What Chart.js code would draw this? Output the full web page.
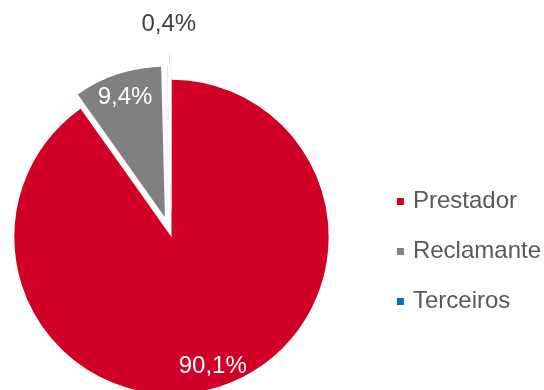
<!DOCTYPE html>
<html><head><meta charset="utf-8">
<script src="https://cdn.jsdelivr.net/npm/chart.js@4"></script>
<style>
html,body{margin:0;padding:0;background:#fff;overflow:hidden;width:544px;height:390px;position:relative}
#c{position:absolute;left:-31px;top:0}
</style>
</head><body>
<canvas id="c" width="582" height="400"></canvas>
<script>
const categories = ['Prestador', 'Reclamante', 'Terceiros'];
const shares = [90.1, 9.4, 0.4];
const sliceColors = ['#D00027', '#808080', '#0070C0'];
const explodeDistance = [0, 20.7, 26];
const radiusScale = [1, 0.959, 1];
const labelDistance = [0.864, 0.838, 1.183];
const labelColors = ['#FFFFFF', '#FFFFFF', '#404040'];
const FONT = '"Liberation Sans", Arial, sans-serif';
const FONT_SIZE = 24;

const fmt = v => v.toFixed(1).replace('.', ',') + '%';

const explodePlugin = {
  id: 'explode',
  afterDatasetsUpdate(chart) {
    const meta = chart.getDatasetMeta(0);
    meta.data.forEach((arc, i) => {
      const d = explodeDistance[i] || 0;
      const mid = (arc.startAngle + arc.endAngle) / 2;
      arc.x += Math.cos(mid) * d;
      arc.y += Math.sin(mid) * d;
      arc.outerRadius *= radiusScale[i];
    });
  }
};

const labelPlugin = {
  id: 'sliceLabels',
  afterDatasetsDraw(chart) {
    const ctx = chart.ctx;
    const meta = chart.getDatasetMeta(0);
    ctx.save();
    ctx.font = FONT_SIZE + 'px ' + FONT;
    ctx.textAlign = 'center';
    ctx.textBaseline = 'middle';
    meta.data.forEach((arc, i) => {
      const mid = (arc.startAngle + arc.endAngle) / 2;
      const r = arc.outerRadius * labelDistance[i];
      ctx.fillStyle = labelColors[i];
      ctx.fillText(fmt(shares[i]), arc.x + Math.cos(mid) * r, arc.y + Math.sin(mid) * r);
    });
    ctx.restore();
  }
};

new Chart(document.getElementById('c'), {
  type: 'pie',
  data: {
    labels: categories,
    datasets: [{
      data: shares,
      backgroundColor: sliceColors,
      borderWidth: [0, 0, 1.8],
      borderColor: '#FFFFFF',
      borderAlign: 'inner',
      clip: false
    }]
  },
  options: {
    responsive: false,
    animation: false,
    devicePixelRatio: 1,
    events: [],
    layout: { padding: { left: 0, right: 0, top: 79.5, bottom: 5.5 } },
    plugins: {
      tooltip: { enabled: false },
      legend: {
        position: 'right',
        title: { display: true, text: '', padding: { top: 8.5, bottom: 8.5 }, font: { size: 10 } },
        labels: {
          usePointStyle: true,
          pointStyle: 'rect',
          boxWidth: 1,
          boxHeight: 7,
          padding: 26,
          color: '#595959',
          font: { family: FONT, size: FONT_SIZE },
          generateLabels(chart) {
            return chart.data.labels.map((text, i) => ({
              text,
              fillStyle: sliceColors[i],
              strokeStyle: sliceColors[i],
              lineWidth: 0,
              fontColor: '#595959',
              pointStyle: 'rect',
              hidden: false,
              index: i
            }));
          }
        }
      }
    }
  },
  plugins: [explodePlugin, labelPlugin]
});
</script>
</body></html>
